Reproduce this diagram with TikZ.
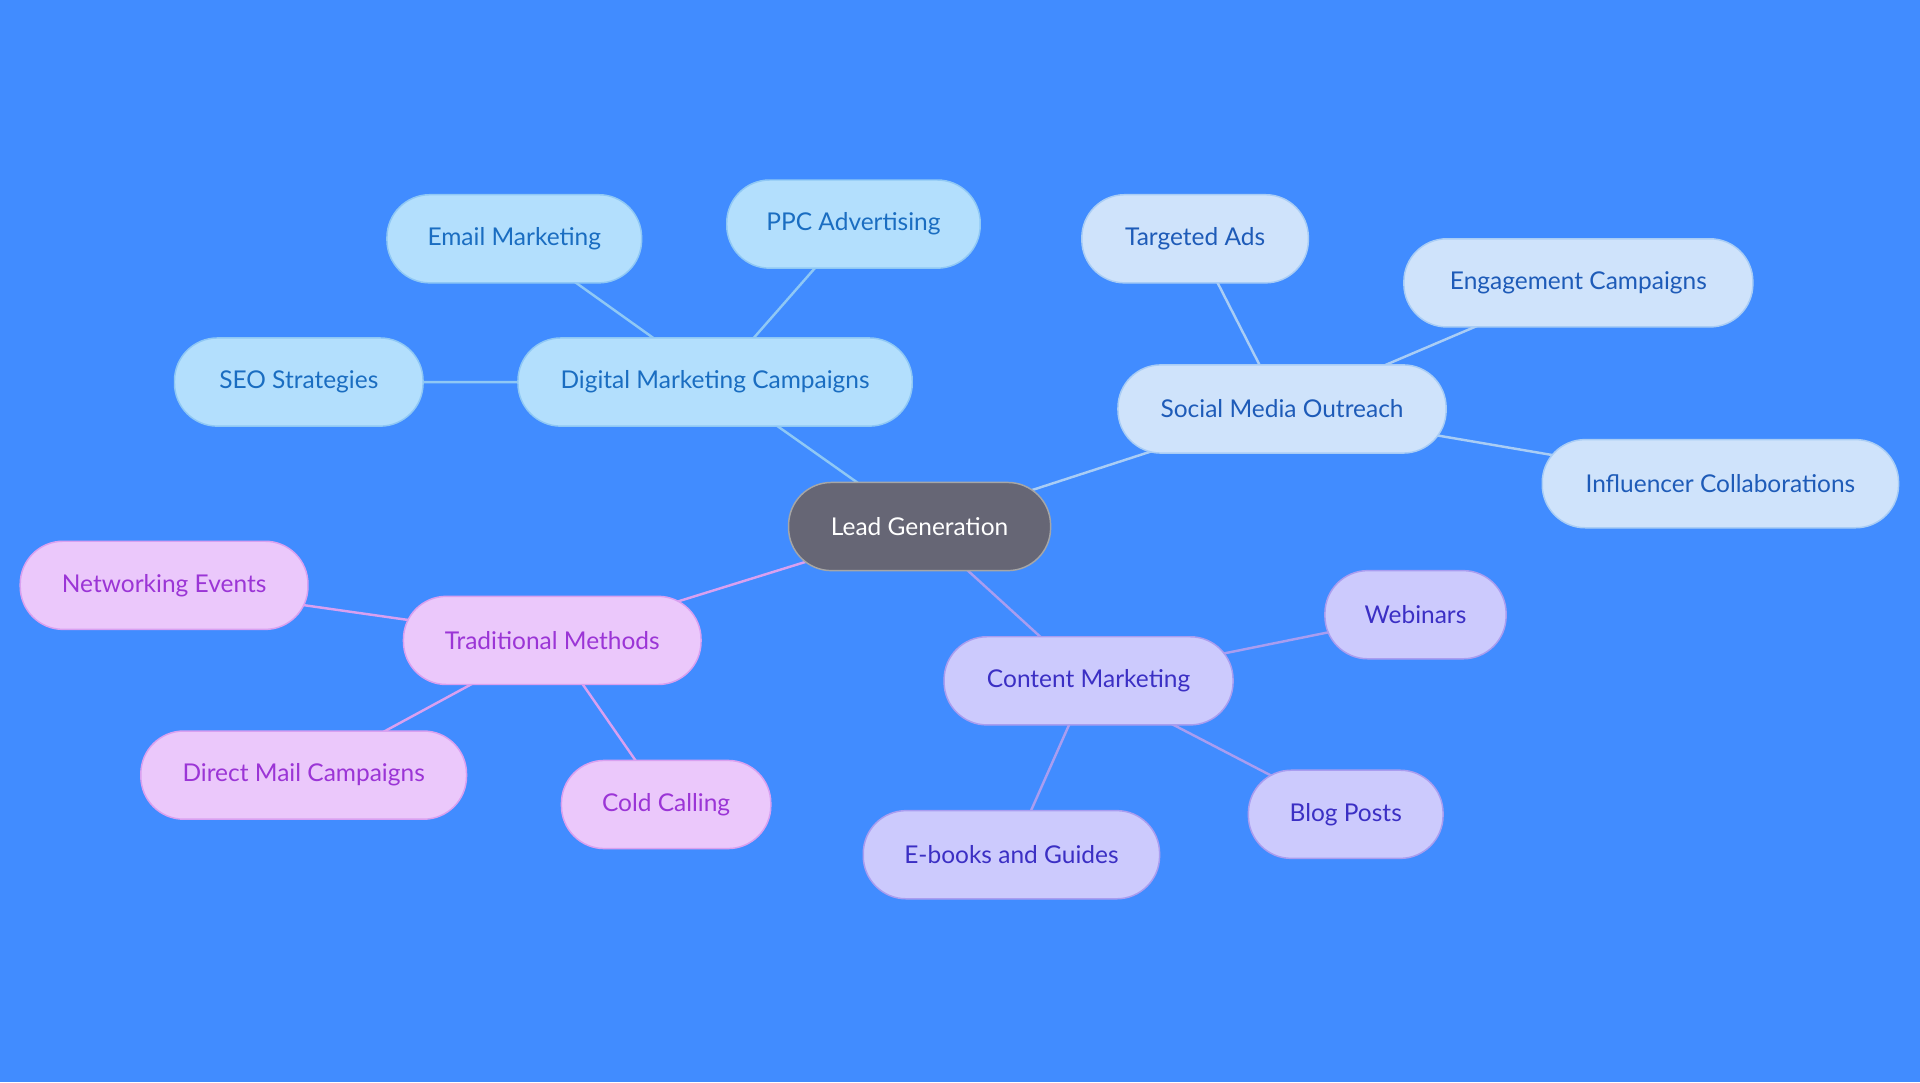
\documentclass[tikz,border=0pt]{standalone}
\usepackage{fontspec}
\setmainfont{Lato}
\begin{document}
\pgfdeclarelayer{bg}\pgfdeclarelayer{edges}
\pgfsetlayers{bg,edges,main}
\definecolor{bgc}{HTML}{418CFF}
\definecolor{bfill}{HTML}{B3DFFD}\definecolor{btext}{HTML}{1A6DC1}\definecolor{bline}{HTML}{8FC8F5}
\definecolor{sfill}{HTML}{CFE3FB}\definecolor{stext}{HTML}{1E5BB8}\definecolor{sline}{HTML}{A9CDF5}
\definecolor{pfill}{HTML}{CCCAFD}\definecolor{ptext}{HTML}{3B2FC4}\definecolor{pline}{HTML}{A99DF0}
\definecolor{kfill}{HTML}{EBC8FB}\definecolor{ktext}{HTML}{9B35D6}\definecolor{kline}{HTML}{D9A0F0}
\begin{tikzpicture}[x=1pt,y=-1pt,
 box/.style={rounded corners=35pt,minimum height=72pt,line width=1.2pt,font=\fontsize{20}{24}\selectfont,inner sep=0pt},
 blu/.style={box,fill=bfill,draw=bline,text=btext},
 soc/.style={box,fill=sfill,draw=sline,text=stext},
 pur/.style={box,fill=pfill,draw=pline,text=ptext},
 pin/.style={box,fill=kfill,draw=kline,text=ktext},
 e/.style={line width=2pt}]
\begin{pgfonlayer}{bg}\fill[bgc] (0,0) rectangle (1568,884);\end{pgfonlayer}
\useasboundingbox (0,0) rectangle (1568,884);
\node[box,fill=black!90!blue!60,draw=gray!70,text=white,minimum width=214pt] (lg) at (751,430) {Lead Generation};
\node[blu,minimum width=322pt] (dm) at (584,312) {Digital Marketing Campaigns};
\node[blu,minimum width=208pt] (em) at (420,195) {Email Marketing};
\node[blu,minimum width=207pt] (ppc) at (697,183) {PPC Advertising};
\node[blu,minimum width=203pt] (seo) at (244,312) {SEO Strategies};
\node[soc,minimum width=268pt] (sm) at (1047,334) {Social Media Outreach};
\node[soc,minimum width=185pt] (ta) at (976,195) {Targeted Ads};
\node[soc,minimum width=285pt] (ec) at (1289,231) {Engagement Campaigns};
\node[soc,minimum width=291pt] (ic) at (1405,395) {Influencer Collaborations};
\node[pin,minimum width=243pt] (tm) at (451,523) {Traditional Methods};
\node[pin,minimum width=235pt] (ne) at (134,478) {Networking Events};
\node[pin,minimum width=266pt] (dmc) at (248,633) {Direct Mail Campaigns};
\node[pin,minimum width=171pt] (cc) at (544,657) {Cold Calling};
\node[pur,minimum width=236pt] (cm) at (889,556) {Content Marketing};
\node[pur,minimum width=148pt] (web) at (1156,502) {Webinars};
\node[pur,minimum width=159pt] (bp) at (1099,665) {Blog Posts};
\node[pur,minimum width=242pt] (eb) at (826,698) {E-books and Guides};
\begin{pgfonlayer}{edges}
\draw[e,bline] (lg.center)--(dm.center) (dm.center)--(em.center) (dm.center)--(ppc.center) (dm.center)--(seo.center);
\draw[e,sline] (lg.center)--(sm.center) (sm.center)--(ta.center) (sm.center)--(ec.center) (sm.center)--(ic.center);
\draw[e,kline] (lg.center)--(tm.center) (tm.center)--(ne.center) (tm.center)--(dmc.center) (tm.center)--(cc.center);
\draw[e,pline] (lg.center)--(cm.center) (cm.center)--(web.center) (cm.center)--(bp.center) (cm.center)--(eb.center);
\end{pgfonlayer}
\end{tikzpicture}
\end{document}
